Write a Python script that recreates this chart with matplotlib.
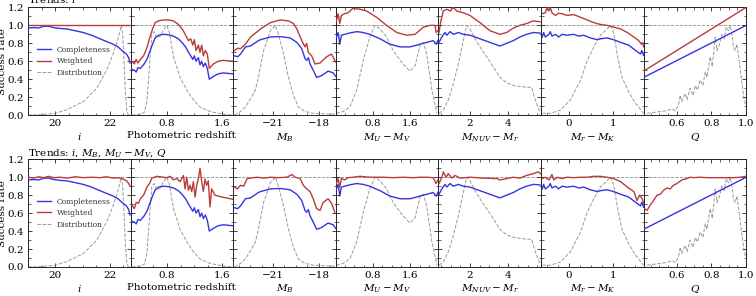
import matplotlib
matplotlib.use("Agg")
import matplotlib.pyplot as plt
from matplotlib.ticker import MultipleLocator

plt.rcParams['font.family'] = ['DejaVu Serif']
plt.rcParams['mathtext.fontset'] = 'dejavuserif'

# ---- data ----
# i band
i_x = [19.03, 19.21, 19.39, 19.58, 19.76, 19.94, 20.18, 20.42, 20.73, 21.03,
       21.33, 21.64, 21.88, 22.12, 22.30, 22.48, 22.61, 22.69, 22.74]
i_comp = [0.97, 0.975, 0.97, 0.99, 0.99, 0.975, 0.965, 0.96, 0.94, 0.92,
          0.89, 0.85, 0.82, 0.79, 0.76, 0.71, 0.68, 0.64, 0.58]
i_wt_top_x = [19.03, 22.74]
i_wt_top = [1.0, 1.0]
i_wt_bot = [1.0, 0.99, 1.005, 0.995, 1.01, 0.995, 1.0, 0.99, 1.005, 0.995,
            1.0, 0.995, 1.005, 0.99, 0.995, 0.98, 0.96, 0.93, 0.90]
i_dist_x = [19.0, 19.5, 20.0, 20.42, 21.03, 21.52, 21.88, 22.12, 22.30, 22.38,
            22.42, 22.47, 22.52, 22.57, 22.62, 22.68, 22.75]
i_dist = [0.0, 0.005, 0.02, 0.06, 0.15, 0.30, 0.50, 0.68, 0.85, 0.95,
          1.0, 0.9, 0.6, 0.25, 0.05, 0.0, 0.0]

# photometric redshift
z_x = [0.290, 0.324, 0.353, 0.378, 0.412, 0.460, 0.509, 0.557, 0.596, 0.630,
       0.679, 0.751, 0.824, 0.897, 0.970, 1.033, 1.082, 1.116, 1.150, 1.179,
       1.203, 1.227, 1.261, 1.285, 1.310, 1.334, 1.363, 1.392, 1.421, 1.480,
       1.552, 1.625, 1.760]
z_comp = [0.51, 0.50, 0.48, 0.53, 0.52, 0.56, 0.62, 0.72, 0.80, 0.86,
          0.89, 0.90, 0.895, 0.88, 0.85, 0.80, 0.75, 0.70, 0.66, 0.62,
          0.66, 0.60, 0.64, 0.56, 0.60, 0.54, 0.58, 0.52, 0.40, 0.43,
          0.46, 0.47, 0.46]
z_wt_top = [0.60, 0.57, 0.62, 0.58, 0.62, 0.66, 0.75, 0.88, 0.97, 1.03,
            1.05, 1.06, 1.06, 1.05, 1.01, 0.95, 0.88, 0.83, 0.85, 0.78,
            0.84, 0.72, 0.78, 0.70, 0.78, 0.66, 0.72, 0.68, 0.52, 0.57,
            0.60, 0.61, 0.60]
z_wt_bot_x = [0.290, 0.324, 0.353, 0.387, 0.412, 0.460, 0.509, 0.547, 0.581, 0.654,
              0.751, 0.800, 0.849, 0.897, 0.946, 0.994, 1.043, 1.067, 1.091, 1.116,
              1.140, 1.164, 1.188, 1.213, 1.237, 1.261, 1.285, 1.310, 1.334, 1.358,
              1.382, 1.406, 1.431, 1.455, 1.504, 1.601, 1.760]
z_wt_bot = [0.69, 0.65, 0.72, 0.71, 0.76, 0.80, 0.89, 0.93, 0.99, 1.01,
            1.0, 0.995, 1.01, 0.97, 0.985, 0.95, 1.02, 0.87, 1.0, 0.855,
            0.91, 0.84, 0.95, 0.78, 0.91, 0.985, 1.10, 0.95, 0.84, 0.98,
            0.91, 0.96, 0.67, 0.87, 0.80, 0.78, 0.755]
z_dist_x = [0.290, 0.412, 0.470, 0.509, 0.547, 0.581, 0.615, 0.654, 0.703, 0.751,
            0.800, 0.839, 0.897, 0.994, 1.091, 1.188, 1.285, 1.431, 1.625, 1.760]
z_dist = [0.0, 0.01, 0.03, 0.15, 0.55, 0.90, 0.93, 0.86, 0.88, 0.95,
          1.0, 0.92, 0.65, 0.42, 0.28, 0.17, 0.09, 0.04, 0.01, 0.0]

# M_B
mb_x = [-23.51, -23.31, -23.12, -22.80, -22.47, -21.95, -21.82, -21.17, -20.53, -19.88,
        -19.44, -19.12, -18.91, -18.80, -18.69, -18.58, -18.37, -18.15, -17.82, -17.40,
        -17.07, -16.90]
mb_comp = [0.66, 0.65, 0.68, 0.76, 0.77, 0.83, 0.84, 0.87, 0.875, 0.86,
           0.81, 0.74, 0.63, 0.61, 0.64, 0.57, 0.50, 0.42, 0.44, 0.49,
           0.47, 0.43]
mb_wt_top_x = [-23.51, -23.31, -23.12, -22.80, -22.47, -21.95, -21.82, -21.17, -20.53, -19.99,
               -19.66, -19.44, -19.12, -18.91, -18.80, -18.69, -18.47, -18.26, -17.93, -17.50,
               -17.18, -16.90]
mb_wt_top = [0.72, 0.745, 0.74, 0.79, 0.87, 0.94, 0.96, 1.03, 1.06, 1.05,
             1.02, 0.96, 0.83, 0.76, 0.80, 0.70, 0.66, 0.57, 0.58, 0.65,
             0.68, 0.59]
mb_wt_bot_x = [-23.51, -23.33, -23.12, -22.91, -22.69, -22.47, -22.04, -21.61, -21.17, -20.74,
               -20.09, -19.77, -19.55, -19.23, -19.02, -18.80, -18.58, -18.37, -18.15, -17.93,
               -17.72, -17.40, -17.18, -16.96]
mb_wt_bot = [0.89, 0.87, 0.91, 0.90, 0.985, 0.99, 1.0, 0.99, 1.0, 0.995,
             1.0, 1.03, 1.0, 0.985, 0.91, 0.87, 0.84, 0.76, 0.65, 0.63,
             0.72, 0.76, 0.71, 0.61]
mb_dist_x = [-23.51, -23.12, -22.80, -22.47, -22.15, -21.95, -21.61, -21.17, -20.85, -20.64,
             -20.31, -19.99, -19.66, -19.34, -18.91, -18.37, -16.90]
mb_dist = [0.0, 0.04, 0.09, 0.18, 0.28, 0.42, 0.72, 0.94, 1.0, 0.90,
           0.68, 0.42, 0.22, 0.09, 0.04, 0.02, 0.01]

# M_U - M_V
uv_x = [0.015, 0.05, 0.086, 0.12, 0.19, 0.30, 0.45, 0.59, 0.73, 0.95,
        1.16, 1.38, 1.59, 1.81, 1.95, 2.09, 2.15, 2.19]
uv_comp = [0.87, 0.92, 0.79, 0.89, 0.90, 0.915, 0.93, 0.92, 0.90, 0.85,
           0.79, 0.76, 0.76, 0.79, 0.81, 0.83, 0.79, 0.83]
uv_wt_top_x = [0.015, 0.05, 0.086, 0.12, 0.19, 0.26, 0.37, 0.52, 0.66, 0.875,
               1.09, 1.31, 1.52, 1.70, 1.88, 2.02, 2.13, 2.15, 2.19]
uv_wt_top = [1.05, 1.13, 1.02, 1.11, 1.13, 1.14, 1.19, 1.18, 1.16, 1.09,
             1.0, 0.92, 0.89, 0.90, 0.98, 1.0, 1.0, 0.92, 0.94]
uv_wt_bot_x = [0.015, 0.05, 0.086, 0.12, 0.19, 0.26, 0.37, 0.52, 0.73, 1.02,
               1.23, 1.45, 1.66, 1.81, 1.95, 2.09, 2.15, 2.19]
uv_wt_bot = [0.93, 0.985, 0.89, 0.985, 0.97, 0.995, 1.0, 1.01, 1.0, 1.0,
             0.995, 1.0, 0.995, 1.0, 1.0, 0.995, 0.93, 0.97]
uv_dist_x = [0.015, 0.16, 0.30, 0.45, 0.59, 0.73, 0.84, 0.95, 1.09, 1.23,
             1.41, 1.59, 1.70, 1.81, 1.88, 1.95, 2.06, 2.17]
uv_dist = [0.02, 0.04, 0.09, 0.28, 0.61, 0.87, 1.0, 0.96, 0.87, 0.72,
           0.59, 0.49, 0.55, 0.79, 0.81, 0.68, 0.28, 0.02]

# M_NUV - M_r
nr_x = [0.385, 0.53, 0.70, 0.79, 0.96, 1.13, 1.39, 1.65, 2.0, 2.52,
        3.04, 3.56, 3.91, 4.26, 4.60, 4.95, 5.30, 5.65]
nr_comp = [0.81, 0.87, 0.92, 0.89, 0.93, 0.90, 0.92, 0.90, 0.89, 0.85,
           0.81, 0.77, 0.80, 0.83, 0.87, 0.90, 0.92, 0.915]
nr_wt_top_x = [0.385, 0.48, 0.61, 0.79, 0.96, 1.13, 1.31, 1.65, 2.0, 2.52,
               3.04, 3.56, 3.91, 4.26, 4.60, 4.95, 5.30, 5.65]
nr_wt_top = [0.92, 1.05, 1.16, 1.18, 1.16, 1.2, 1.16, 1.14, 1.11, 1.03,
             0.94, 0.90, 0.92, 0.97, 1.0, 1.02, 1.05, 1.04]
nr_wt_bot_x = [0.385, 0.53, 0.61, 0.75, 0.87, 1.05, 1.22, 1.48, 2.0, 2.69,
               3.39, 3.56, 3.91, 4.26, 4.60, 4.95, 5.30, 5.56, 5.68]
nr_wt_bot = [0.93, 1.0, 1.06, 1.0, 1.04, 0.99, 1.02, 0.99, 1.0, 0.99,
             0.985, 0.97, 0.985, 1.0, 0.99, 1.02, 1.04, 1.06, 1.04]
nr_dist_x = [0.385, 0.61, 0.87, 1.13, 1.39, 1.65, 1.83, 2.0, 2.26, 2.52,
             2.87, 3.21, 3.56, 3.91, 4.26, 4.60, 4.95, 5.21, 5.30, 5.47, 5.65]
nr_dist = [0.02, 0.055, 0.17, 0.35, 0.57, 0.83, 1.0, 0.96, 0.85, 0.76,
           0.65, 0.54, 0.42, 0.36, 0.33, 0.32, 0.31, 0.31, 0.24, 0.13, 0.04]

# M_r - M_K
rk_x = [-0.60, -0.57, -0.53, -0.45, -0.42, -0.38, -0.30, -0.23, -0.15, -0.04,
        0.11, 0.23, 0.34, 0.49, 0.65, 0.72, 0.87, 1.02, 1.18, 1.36,
        1.52, 1.63, 1.66, 1.70]
rk_comp = [0.87, 0.92, 0.87, 0.90, 0.93, 0.88, 0.90, 0.87, 0.90, 0.89,
           0.90, 0.88, 0.89, 0.86, 0.84, 0.85, 0.86, 0.84, 0.81, 0.78,
           0.72, 0.68, 0.72, 0.665]
rk_wt_top_x = [-0.60, -0.53, -0.49, -0.45, -0.42, -0.38, -0.30, -0.23, -0.15, -0.04,
               0.11, 0.27, 0.42, 0.57, 0.72, 0.87, 1.02, 1.18, 1.33, 1.48,
               1.59, 1.65, 1.68, 1.70]
rk_wt_top = [1.13, 1.14, 1.2, 1.16, 1.2, 1.14, 1.11, 1.135, 1.13, 1.11,
             1.12, 1.09, 1.06, 1.03, 1.01, 1.0, 0.98, 0.96, 0.92, 0.87,
             0.83, 0.79, 0.81, 0.76]
rk_wt_bot_x = [-0.60, -0.53, -0.45, -0.38, -0.34, -0.26, -0.15, -0.04, 0.11, 0.27,
               0.42, 0.57, 0.72, 0.87, 1.02, 1.18, 1.33, 1.48, 1.55, 1.61,
               1.67, 1.70]
rk_wt_bot = [0.985, 1.0, 0.97, 1.03, 0.97, 1.0, 0.985, 1.0, 0.995, 1.0,
             1.0, 1.01, 1.01, 1.0, 0.985, 0.95, 0.89, 0.84, 0.74, 0.80,
             0.76, 0.71]
rk_dist_x = [-0.60, -0.42, -0.19, 0.04, 0.27, 0.42, 0.57, 0.72, 0.87, 0.95,
             1.02, 1.10, 1.21, 1.36, 1.52, 1.70]
rk_dist = [0.02, 0.02, 0.055, 0.17, 0.39, 0.61, 0.76, 0.89, 0.96, 1.0,
           0.92, 0.68, 0.42, 0.26, 0.13, 0.02]

# Q
q_x = [0.41, 1.0]
q_comp = [0.42, 1.0]
q_wt_top = [0.49, 1.2]
q_wt_bot_x = [0.416, 0.43, 0.448, 0.467, 0.487, 0.506, 0.525, 0.544, 0.563, 0.582,
              0.602, 0.63, 0.66, 0.678, 0.697, 0.736, 0.774, 0.832, 0.927, 0.966, 1.0]
q_wt_bot = [0.65, 0.63, 0.69, 0.74, 0.80, 0.81, 0.855, 0.88, 0.87, 0.91,
            0.93, 0.97, 0.985, 1.0, 0.995, 1.0, 0.995, 0.995, 0.995, 1.0, 1.01]
q_dist_x = [0.43, 0.506, 0.544, 0.573, 0.592, 0.611, 0.621, 0.63, 0.65, 0.66,
            0.678, 0.694, 0.707, 0.72, 0.736, 0.751, 0.765, 0.774, 0.793, 0.805,
            0.822, 0.832, 0.847, 0.86, 0.874, 0.885, 0.899, 0.908, 0.918, 0.927,
            0.937, 0.947, 0.962, 0.976, 0.989, 1.0]
q_dist = [0.02, 0.04, 0.05, 0.07, 0.05, 0.11, 0.22, 0.15, 0.24, 0.17,
          0.30, 0.22, 0.33, 0.28, 0.39, 0.33, 0.48, 0.42, 0.65, 0.54,
          0.87, 0.72, 0.79, 0.90, 0.85, 0.98, 0.94, 1.0, 0.90, 0.76,
          0.72, 0.79, 0.57, 0.35, 0.17, 0.09]

labels = ["$i$", "Photometric redshift", "$M_B$", "$M_U - M_V$",
          "$M_{NUV} - M_r$", "$M_r - M_K$", "$Q$"]
xlims = [(19.0, 22.76), (0.27, 1.77), (-23.6, -16.9), (0.0, 2.2),
         (0.35, 5.7), (-0.63, 1.70), (0.41, 1.0)]
xticks = [[20, 22], [0.8, 1.6], [-21, -18], [0.8, 1.6], [2, 4], [0, 1],
          [0.6, 0.8, 1.0]]
xticklabels = [["20", "22"], ["0.8", "1.6"], ["\u221221", "\u221218"],
               ["0.8", "1.6"], ["2", "4"], ["0", "1"], ["0.6", "0.8", "1.0"]]
xminor = [0.5, 0.2, 0.75, 0.2, 0.5, 0.25, 0.05]
yticks = [0.0, 0.2, 0.4, 0.6, 0.8, 1.0, 1.2]
yticklabels = ["0.0", "0.2", "0.4", "0.6", "0.8", "1.0", "1.2"]
yminor = [0.1, 0.3, 0.5, 0.7, 0.9, 1.1]

panels = [
    (i_x, i_comp, i_wt_top_x, i_wt_top, i_x, i_wt_bot, i_dist_x, i_dist),
    (z_x, z_comp, z_x, z_wt_top, z_wt_bot_x, z_wt_bot, z_dist_x, z_dist),
    (mb_x, mb_comp, mb_wt_top_x, mb_wt_top, mb_wt_bot_x, mb_wt_bot, mb_dist_x, mb_dist),
    (uv_x, uv_comp, uv_wt_top_x, uv_wt_top, uv_wt_bot_x, uv_wt_bot, uv_dist_x, uv_dist),
    (nr_x, nr_comp, nr_wt_top_x, nr_wt_top, nr_wt_bot_x, nr_wt_bot, nr_dist_x, nr_dist),
    (rk_x, rk_comp, rk_wt_top_x, rk_wt_top, rk_wt_bot_x, rk_wt_bot, rk_dist_x, rk_dist),
    (q_x, q_comp, q_x, q_wt_top, q_wt_bot_x, q_wt_bot, q_dist_x, q_dist),
]

titles = ["Trends: $i$", "Trends: $i$, $M_B$, $M_U - M_V$, $Q$"]

blue = "#3535e0"
red = "#b83c3c"
grey = "#9a9a9a"

fig, axes = plt.subplots(2, 7, figsize=(7.56, 2.96), dpi=100)
fig.subplots_adjust(left=0.037, right=0.987, top=0.975, bottom=0.098,
                    wspace=0.0, hspace=0.41)

for row in range(2):
    for col in range(7):
        ax = axes[row, col]
        cx, cy, wtx, wty, wbx, wby, dx, dy = panels[col]
        ax.axhline(1.0, color="#8c8c8c", ls="--", lw=0.6, zorder=1)
        ax.plot(cx, cy, color=blue, lw=1.0, label="Completeness", zorder=3)
        if row == 0:
            ax.plot(wtx, wty, color=red, lw=1.0, label="Weighted", zorder=3)
        else:
            ax.plot(wbx, wby, color=red, lw=1.0, label="Weighted", zorder=3)
        ax.plot(dx, dy, color=grey, ls="--", lw=0.7, label="Distribution", zorder=2)

        ax.set_xlim(*xlims[col])
        ax.set_ylim(0.0, 1.2)
        ax.set_xticks(xticks[col])
        ax.set_xticklabels(xticklabels[col])
        ax.xaxis.set_minor_locator(MultipleLocator(xminor[col]))
        ax.set_yticks(yticks)
        ax.set_yticks(yminor, minor=True)
        ax.tick_params(which="both", direction="in", top=True, right=True,
                       labelsize=7.5, pad=3, color="#222222")
        ax.tick_params(which="major", length=3, width=0.6)
        ax.tick_params(which="minor", length=1.8, width=0.5)
        for sp in ax.spines.values():
            sp.set_linewidth(0.7)
            sp.set_color("#222222")
        ax.set_xlabel(labels[col], fontsize=7.5, labelpad=2)
        if col == 0:
            ax.set_yticklabels(yticklabels)
            ax.set_ylabel("Success rate", fontsize=7.5)
            ax.yaxis.set_label_coords(-0.2, 0.5)
            ax.set_title(titles[row], loc="left", fontsize=7.5, pad=3)
            ax.legend(loc="center left", bbox_to_anchor=(0.02, 0.5), frameon=False,
                      fontsize=5.5, handlelength=1.8, handletextpad=0.8,
                      labelspacing=0.45, labelcolor="#333333")
        else:
            ax.tick_params(labelleft=False)

fig.savefig("out.png", dpi=100)
